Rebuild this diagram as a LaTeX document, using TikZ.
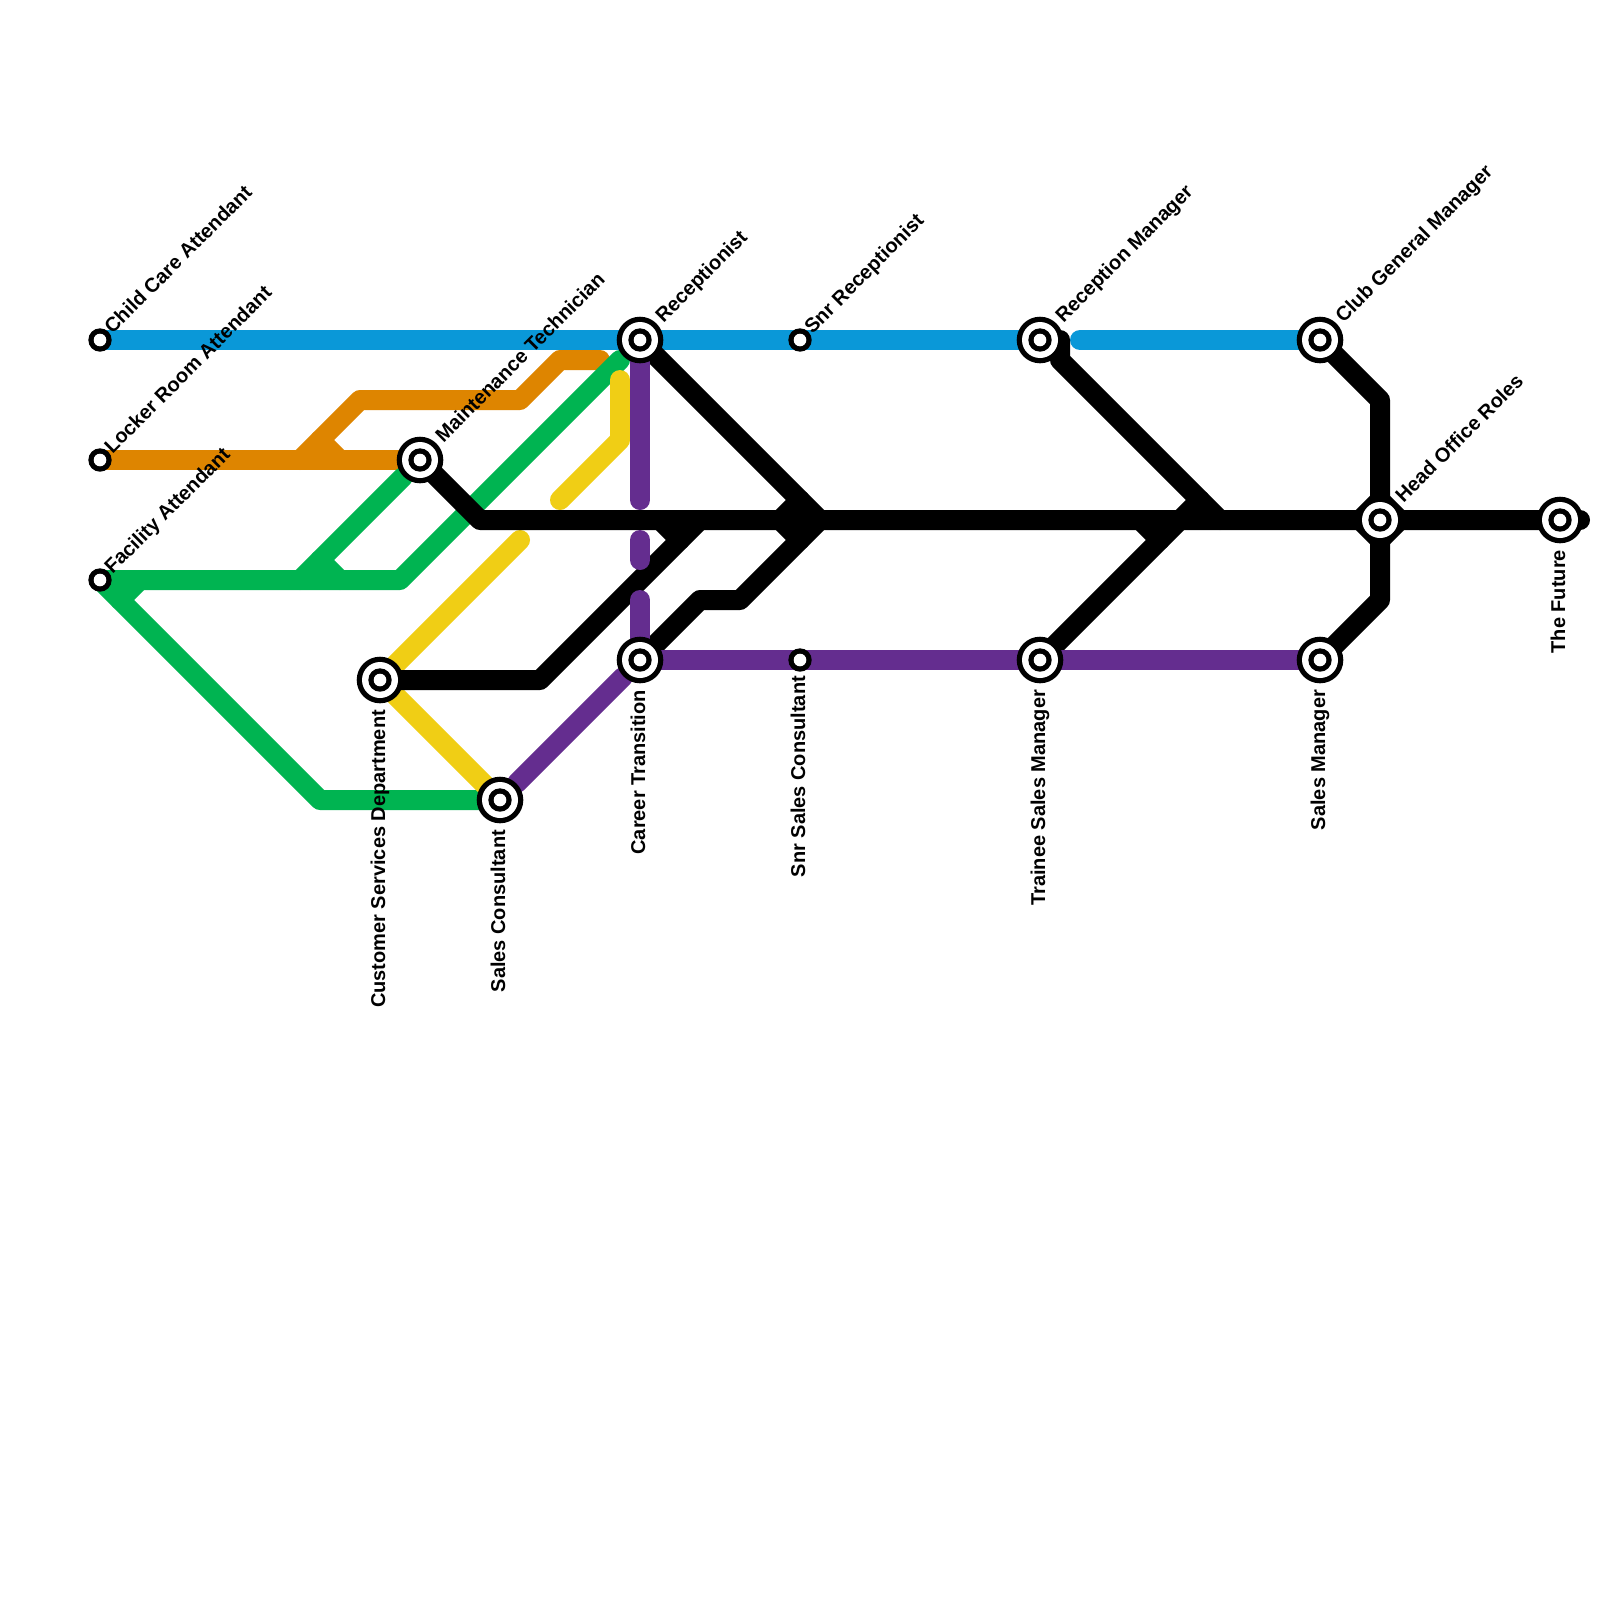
\documentclass[tikz,border=0pt]{standalone}
\usetikzlibrary{calc}
\usepackage{fontspec}
\setmainfont{Liberation Sans}
\definecolor{lblue}{HTML}{0A98D8}
\definecolor{lorange}{HTML}{DE8500}
\definecolor{lgreen}{HTML}{00B451}
\definecolor{lyellow}{HTML}{F0CE15}
\definecolor{lpurple}{HTML}{642D8F}
\tikzset{
  metro/.style={line width=20pt,line cap=round,line join=round},
  disc/.style={circle,draw=none,inner sep=0pt,outer sep=0pt,minimum size=#1},
  lab/.style={font=\fontsize{20pt}{22pt}\selectfont\bfseries,inner sep=0pt,outer sep=0pt,text=black,text height=14pt,text depth=4pt},
  labne/.style={lab,rotate=45,anchor=west},
  labs/.style={lab,rotate=90,anchor=east},
}
\begin{document}
\begin{tikzpicture}[x=1pt,y=-1pt]
\useasboundingbox (0,0) rectangle (1600,1600);
\fill[white] (0,0) rectangle (1600,1600);
% stations as coordinates
\coordinate (child) at (100,340);
\coordinate (locker) at (100,460);
\coordinate (facility) at (100,580);
\coordinate (maint) at (420,460);
\coordinate (recep) at (640,340);
\coordinate (snrrec) at (800,340);
\coordinate (recmgr) at (1040,340);
\coordinate (gm) at (1320,340);
\coordinate (head) at (1380,520);
\coordinate (future) at (1560,520);
\coordinate (cust) at (380,680);
\coordinate (sales) at (500,800);
\coordinate (career) at (640,660);
\coordinate (snrsales) at (800,660);
\coordinate (trainee) at (1040,660);
\coordinate (salesmgr) at (1320,660);
% orange
\draw[metro,lorange] (locker) -- (maint);
\draw[metro,lorange] (300,460) -- (360,400) -- (520,400) -- (560,360) -- (600,360);
\draw[metro,lorange] (320,440) -- (340,460);
% green
\draw[metro,lgreen] (facility) -- (400,580) -- (620,360);
\draw[metro,lgreen] (facility) -- (320,800) -- (sales);
\draw[metro,lgreen] (120,600) -- (140,580);
\draw[metro,lgreen] (300,580) -- (403,477);
\draw[metro,lgreen] (320,560) -- (340,580);
% blue
\draw[metro,lblue] (child) -- (recmgr);
\draw[metro,lblue] (1080,340) -- (gm);
% yellow
\draw[metro,lyellow] (520,540) -- (cust) -- (sales);
\draw[metro,lyellow] (560,500) -- (620,440) -- (620,380);
% black
\draw[metro,black] (maint) -- (480,520) -- (1580,520);
\draw[metro,black] (recep) -- (820,520) -- (740,600) -- (700,600) -- (career);
\draw[metro,black] (780,520) -- (800,500);
\draw[metro,black] (780,520) -- (800,540);
\draw[metro,black] (cust) -- (540,680) -- (700,520);
\draw[metro,black] (660,520) -- (680,540);
\draw[metro,black] (recmgr) -- (1060,340) -- (1060,360) -- (1220,520);
\draw[metro,black] (trainee) -- (1200,500);
\draw[metro,black] (1140,520) -- (1160,540);
\draw[metro,black] (gm) -- (1380,400) -- (1380,600) -- (salesmgr);
\draw[metro,black] (1360,520) -- (1380,500) -- (1400,520) -- (1380,540) -- cycle;
% purple
\draw[metro,lpurple] (recep) -- (640,500);
\draw[metro,lpurple] (640,540) -- (640,560);
\draw[metro,lpurple] (640,600) -- (career);
\draw[metro,lpurple] (career) -- (salesmgr);
\draw[metro,lpurple] (623,677) -- (517,783);
% stations
\foreach \s in {maint,recep,recmgr,gm,future,cust,sales,career,trainee,salesmgr}{
  \node[disc=46.6pt,fill=black] (\s-a) at (\s) {};
  \node[disc=36pt,fill=white] (\s-b) at (\s) {};
  \node[disc=23.4pt,fill=black] (\s-c) at (\s) {};
  \node[disc=12.6pt,fill=white] (\s-d) at (\s) {};
}
\node[disc=36pt,fill=white] (head-b) at (head) {};
\node[disc=23.4pt,fill=black] (head-c) at (head) {};
\node[disc=12.6pt,fill=white] (head-d) at (head) {};
\foreach \s in {child,locker,facility,snrrec,snrsales}{
  \node[disc=23.4pt,fill=black] (\s-c) at (\s) {};
  \node[disc=12.6pt,fill=white] (\s-d) at (\s) {};
}
% labels
\node[labne] (t1) at ($(child)+(9,-9)$) {Child Care Attendant};
\node[labne] (t2) at ($(locker)+(9,-9)$) {Locker Room Attendant};
\node[labne] (t3) at ($(facility)+(9,-9)$) {Facility Attendant};
\node[labne] (t4) at ($(maint)+(20,-20)$) {Maintenance Technician};
\node[labne] (t5) at ($(recep)+(20,-20)$) {Receptionist};
\node[labne] (t6) at ($(snrrec)+(9,-9)$) {Snr Receptionist};
\node[labne] (t7) at ($(recmgr)+(20,-20)$) {Reception Manager};
\node[labne] (t8) at ($(gm)+(20,-20)$) {Club General Manager};
\node[labne] (t9) at ($(head)+(20,-20)$) {Head Office Roles};
\node[labs] (t10) at ($(future)+(0,30)$) {The Future};
\node[labs] (t11) at ($(cust)+(0,30)$) {Customer Services Department};
\node[labs] (t12) at ($(sales)+(0,30)$) {Sales Consultant};
\node[labs] (t13) at ($(career)+(0,30)$) {Career Transition};
\node[labs] (t14) at ($(snrsales)+(0,16)$) {Snr Sales Consultant};
\node[labs] (t15) at ($(trainee)+(0,30)$) {Trainee Sales Manager};
\node[labs] (t16) at ($(salesmgr)+(0,30)$) {Sales Manager};
\end{tikzpicture}
\end{document}
